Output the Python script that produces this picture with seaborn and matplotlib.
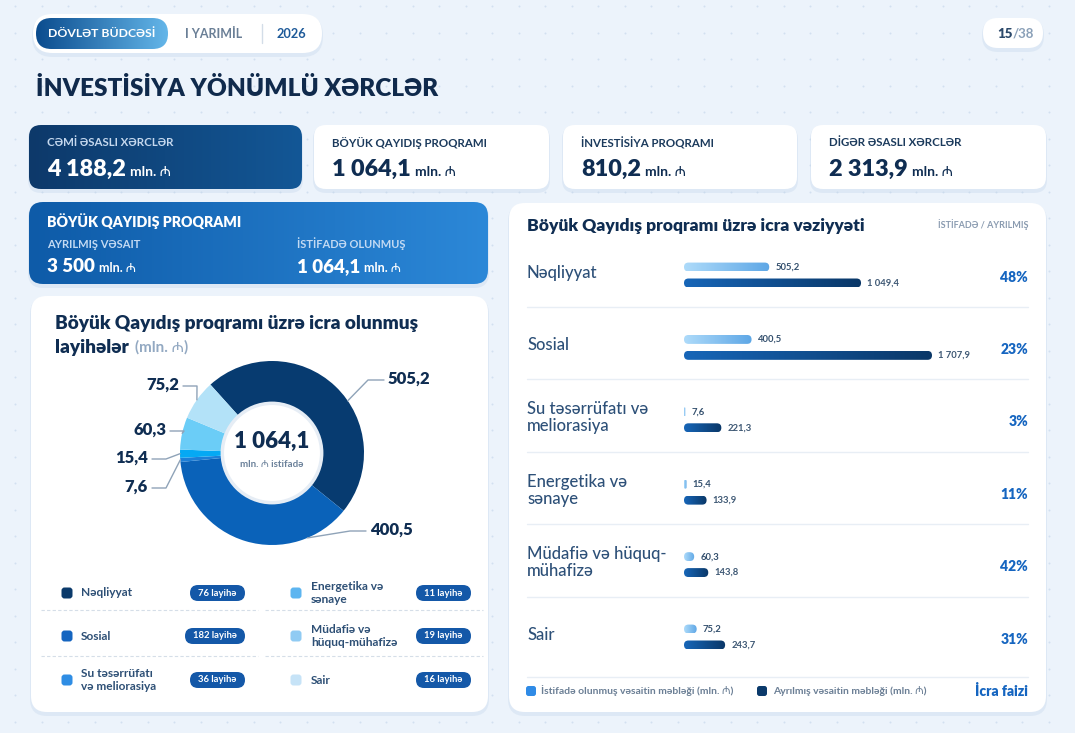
import matplotlib
matplotlib.use('Agg')
import matplotlib.pyplot as plt
from matplotlib.patches import FancyBboxPatch, Circle
from matplotlib.colors import LinearSegmentedColormap
import numpy as np
import pandas as pd
import seaborn as sns

W, H = 1075, 733

# chart data
kpi_labels = ['CƏMİ ƏSASLI XƏRCLƏR', 'BÖYÜK QAYIDIŞ PROQRAMI', 'İNVESTİSİYA PROQRAMI', 'DİGƏR ƏSASLI XƏRCLƏR']
kpi_values = ['4 188,2', '1 064,1', '810,2', '2 313,9']
program_allocated = '3 500'
program_used = '1 064,1'

categories = ['Nəqliyyat', 'Sosial', 'Su təsərrüfatı və meliorasiya', 'Energetika və sənaye',
              'Müdafiə və hüquq-mühafizə', 'Sair']
row_labels = ['Nəqliyyat', 'Sosial', 'Su təsərrüfatı və\nmeliorasiya', 'Energetika və\nsənaye',
              'Müdafiə və hüquq-\nmühafizə', 'Sair']
legend_labels = ['Nəqliyyat', 'Sosial', 'Su təsərrüfatı\nvə meliorasiya', 'Energetika və\nsənaye',
                 'Müdafiə və\nhüquq-mühafizə', 'Sair']
used = [505.2, 400.5, 7.6, 15.4, 60.3, 75.2]
allocated = [1049.4, 1707.9, 221.3, 133.9, 143.8, 243.7]
exec_pct = [48, 23, 3, 11, 42, 31]
project_counts = [76, 182, 36, 11, 19, 16]

# colours
BG = '#ECF3FB'
NAVY = '#0F2D52'
donut_colors = ['#073B70', '#0A62B9', '#1C7FD8', '#05A9F4', '#6BCDF7', '#B3E2F8']
marker_colors = ['#0B3A6B', '#1565C0', '#2F8DE4', '#5DB5F0', '#90CBF3', '#C6E3F7']

sns.set_theme(style='white')
plt.rcParams['font.family'] = ['Lato', 'Noto Sans', 'Inter', 'Roboto', 'Open Sans', 'DejaVu Sans']


def fmt(v):
    return f'{v:,.1f}'.replace(',', ' ').replace('.', ',')


def px_rect(x0, y0, x1, y1):
    return [x0 / W, 1 - y1 / H, (x1 - x0) / W, (y1 - y0) / H]


fig = plt.figure(figsize=(W / 100, H / 100), dpi=100)
fig.patch.set_facecolor(BG)
cv = fig.add_axes([0, 0, 1, 1])
cv.set_xlim(0, W)
cv.set_ylim(H, 0)
cv.set_autoscale_on(False)
cv.axis('off')
renderer = fig.canvas.get_renderer()


def rbox(x0, y0, x1, y1, r, fc, z=1, ax=None, **kw):
    ax = ax or cv
    p = FancyBboxPatch((x0, y0), x1 - x0, y1 - y0, boxstyle=f'round,pad=0,rounding_size={r}',
                       fc=fc, ec='none', lw=0, zorder=z, **kw)
    ax.add_patch(p)
    return p


def grad_box(x0, y0, x1, y1, r, c0, c1, z=2):
    p = rbox(x0, y0, x1, y1, r, 'none', z=z)
    cmap = LinearSegmentedColormap.from_list('g', [c0, c1])
    im = cv.imshow(np.linspace(0, 1, 256)[None, :], extent=[x0, x1, y1, y0], cmap=cmap,
                   aspect='auto', zorder=z, interpolation='bilinear')
    im.set_clip_path(p)


def card(x0, y0, x1, y1, r, fc='white', grad=None):
    rbox(x0 - 1, y0 + 1, x1 + 1, y1 + 4, r + 1, '#C3D5EA', z=1, alpha=0.35)
    if grad:
        grad_box(x0, y0, x1, y1, r, grad[0], grad[1])
    else:
        rbox(x0, y0, x1, y1, r, fc, z=2)


def txt(x, y, s, size, color, weight='normal', ha='left', va='center', z=5, **kw):
    return cv.text(x, y, s, fontsize=size, color=color, fontweight=weight, ha=ha, va=va, zorder=z, **kw)


def value_unit(x, y, value, vsize, usize, color):
    t = txt(x, y, value, vsize, color, 'heavy', va='baseline')
    bb = t.get_window_extent(renderer)
    xr = cv.transData.inverted().transform((bb.x1, bb.y0))[0]
    txt(xr + 4, y, 'mln. ₼', usize, color, 'bold', va='baseline')


# dotted background
gx, gy = np.meshgrid(np.arange(15, W, 26.5), np.arange(6, H, 26.5))
cv.scatter(gx.ravel(), gy.ravel(), s=2.0, c='#D2E0F0', lw=0, zorder=0)

# header
card(33, 14, 322, 53, 19.5)
grad_box(36, 18, 168, 49, 15.5, '#0B4C8E', '#64B6E9', z=3)
txt(102, 33.5, 'DÖVLƏT BÜDCƏSİ', 8.8, 'white', 'bold', ha='center', z=6)
txt(185, 33.5, 'I YARIMİL', 9, '#6A7F96', 'bold')
cv.plot([262, 262], [24, 43], color='#D3DDE8', lw=1, zorder=4)
txt(277, 33.5, '2026', 9.2, '#1E5A99', 'bold')
card(983, 18, 1043, 48, 15)
txt(1013, 33.5, '15', 9.5, '#2C4A6B', 'heavy', ha='right')
txt(1013, 33.5, '/38', 9.5, '#8AA0B8', 'bold', ha='left')
txt(36, 89, 'İNVESTİSİYA YÖNÜMLÜ XƏRCLƏR', 17.6, '#102A4C', 'heavy')

# KPI cards
kpi_boxes = [(29, 302), (314, 549), (563, 797), (811, 1046)]
for i, (x0, x1) in enumerate(kpi_boxes):
    dark = i == 0
    card(x0, 125, x1, 189, 12, grad=('#0D396A', '#135796') if dark else None)
    txt(x0 + 18, 143, kpi_labels[i], 8.3, '#C5D8EE' if dark else '#1B3A5C', 'bold')
    value_unit(x0 + 18, 176, kpi_values[i], 16.8, 10, 'white' if dark else NAVY)

# program card
card(29, 202, 488, 284, 14, grad=('#0E5BA8', '#2C88D8'))
txt(47, 221, 'BÖYÜK QAYIDIŞ PROQRAMI', 10.2, 'white', 'heavy')
txt(47, 244, 'AYRILMIŞ VƏSAIT', 8, '#C3DAF3', 'bold')
value_unit(47, 272, program_allocated, 13.5, 9, 'white')
txt(297, 244, 'İSTİFADƏ OLUNMUŞ', 8, '#C3DAF3', 'bold')
value_unit(297, 272, program_used, 13.5, 9, 'white')

# left card: donut
card(31, 296, 488, 712, 16)
txt(55, 323, 'Böyük Qayıdış proqramı üzrə icra olunmuş', 13.7, NAVY, 'heavy')
tl = txt(55, 347, 'layihələr', 13.7, NAVY, 'heavy')
bb = tl.get_window_extent(renderer)
xr = cv.transData.inverted().transform((bb.x1, bb.y0))[0]
txt(xr + 6, 347, '(mln. ₼)', 11, '#93A9C2', 'bold')

CX, CY, R, HALF = 272, 453, 92, 170
axd = fig.add_axes(px_rect(CX - HALF, CY - HALF, CX + HALF, CY + HALF))
wedges, _ = axd.pie(used, colors=donut_colors, startangle=132, counterclock=False, radius=1,
                    wedgeprops=dict(width=0.46, edgecolor='none'))
axd.set_xlim(-HALF / R, HALF / R)
axd.set_ylim(-HALF / R, HALF / R)
axd.set_aspect('equal')
axd.axis('off')
axd.add_patch(Circle((0, 0), 0.54, fc='white', ec='#E6EDF5', lw=2.5, zorder=3))
axd.text(0, 0.13, program_used, fontsize=16, fontweight='heavy', color=NAVY, ha='center', va='center', zorder=4)
axd.text(0, -0.12, 'mln. ₼ istifadə', fontsize=7, fontweight='bold', color='#6B819A', ha='center', va='center', zorder=4)


def d(xp, yp):
    return (xp - CX) / R, (CY - yp) / R


label_pos = [(388, 379), (370, 530), (148, 487), (148, 458), (166, 430), (179, 385)]
label_ha = ['left', 'left', 'right', 'right', 'right', 'right']
anchor_t = [0.57, 0.21, 0.5, 0.5, 0.5, 0.5]
for w, v, (lx, ly), ha, t in zip(wedges, used, label_pos, label_ha, anchor_t):
    # counterclock=False: wedge runs from theta2 down to theta1
    ang = np.deg2rad(w.theta2 - (w.theta2 - w.theta1) * t)
    a = (np.cos(ang), np.sin(ang))
    if ha == 'left':
        end = d(lx - 4, ly + 1)
        elbow = d(lx - 20, ly + 1)
    else:
        end = d(lx + 4, ly + 1)
        elbow = d(lx + 18, ly + 1)
    axd.plot([a[0], elbow[0], end[0]], [a[1], elbow[1], end[1]], color='#8FA3B8', lw=1, zorder=2,
             clip_on=False)
    axd.text(*d(lx, ly), fmt(v), fontsize=12, fontweight='heavy', color=NAVY, ha=ha, va='center')

# left legend
rows_y = [593, 636, 680]
cols = [(67, 81, 245), (296, 311, 471)]
for i, (lab, cnt) in enumerate(zip(legend_labels, project_counts)):
    mx, tx, pr = cols[i // 3]
    y = rows_y[i % 3]
    rbox(mx - 5.5, y - 5.5, mx + 5.5, y + 5.5, 3, marker_colors[i], z=3)
    txt(tx, y, lab, 8.6, '#2D4F75', 'bold', linespacing=1.2)
    s = f'{cnt} layihə'
    pw = 5 * len(s) + 10
    rbox(pr - pw, y - 8, pr, y + 8, 8, '#1458A8', z=3)
    txt(pr - pw / 2, y, s, 6.8, 'white', 'bold', ha='center')
for y in [610, 656]:
    for x0, x1 in [(41, 258), (265, 483)]:
        cv.plot([x0, x1], [y, y], color='#D5DEE8', lw=0.8, ls=(0, (3, 2)), zorder=4)

# right card: bars
card(509, 203, 1046, 712, 16)
txt(527, 226, 'Böyük Qayıdış proqramı üzrə icra vəziyyəti', 12.6, NAVY, 'heavy')
txt(1028, 225, 'İSTİFADƏ / AYRILMIŞ', 6.5, '#8A9BB0', 'bold', ha='right')

BX0, BW, BTOP, ROW = 684, 248, 238.8, 72.4
XMAX = 1470
axb = fig.add_axes(px_rect(BX0, BTOP, BX0 + BW, BTOP + 6 * ROW))
axb.patch.set_alpha(0)
df = pd.DataFrame({
    'Kateqoriya': categories * 2,
    'Növ': ['İstifadə'] * 6 + ['Ayrılmış'] * 6,
    'Məbləğ': used + allocated,
})
sns.barplot(data=df, y='Kateqoriya', x='Məbləğ', hue='Növ', order=categories,
            hue_order=['İstifadə', 'Ayrılmış'], palette=['#8CC4F0', '#10508F'],
            orient='h', width=0.44, gap=0.44, errorbar=None, saturation=1,
            legend=False, ax=axb)
axb.set_xlim(0, XMAX)
axb.set_ylim(5.5, -0.5)
axb.axis('off')

sx = BW / XMAX
sy = ROW
used_cmap = LinearSegmentedColormap.from_list('u', ['#AEDBFA', '#5EA7E6'])
alloc_cmap = LinearSegmentedColormap.from_list('a', ['#1766B8', '#0A3767'])
for p in list(axb.patches):
    x0, y0, w, h = p.get_x(), p.get_y(), p.get_width(), p.get_height()
    p.set_visible(False)
    yc = y0 + h / 2
    is_used = yc < round(yc)
    wv = min(w, XMAX - x0)
    r_px = min(4.5, wv * sx / 2, h * sy / 2)
    fb = FancyBboxPatch((x0, y0), wv, h, boxstyle=f'round,pad=0,rounding_size={r_px / sx}',
                        mutation_aspect=sx / sy, fc='none', ec='none', lw=0)
    axb.add_patch(fb)
    im = axb.imshow(np.linspace(0, 1, 256)[None, :], extent=[x0, x0 + wv, y0 + h, y0],
                    cmap=used_cmap if is_used else alloc_cmap, aspect='auto', interpolation='bilinear')
    im.set_clip_path(fb)
    axb.text(x0 + wv + 6 / sx, yc, fmt(w), fontsize=6.8, fontweight='bold',
             color='#34506E' if is_used else '#3E5874', ha='left', va='center', clip_on=False)
axb.set_xlim(0, XMAX)
axb.set_ylim(5.5, -0.5)

inv = cv.transData.inverted()
for i, lab in enumerate(row_labels):
    yc = inv.transform(axb.transData.transform((0, i)))[1]
    txt(527, yc - 2, lab, 12, '#2D5078', 'medium', linespacing=1.05)
    txt(1028, yc + 2, f'{exec_pct[i]}%', 10, '#1565C0', 'heavy', ha='right')
    if i < 5:
        cv.plot([527, 1028], [yc + 32, yc + 32], color='#E8EEF5', lw=1, zorder=4)
cv.plot([527, 1028], [677, 677], color='#E8EEF5', lw=1, zorder=4)

# bar legend
rbox(526, 686, 536, 696, 2.5, '#2F8BE6', z=4)
txt(541, 691, 'İstifadə olunmuş vəsaitin məbləği (mln. ₼)', 7.5, '#6B7F95', 'bold')
rbox(757, 686, 767, 696, 2.5, '#0B3A6B', z=4)
txt(773, 691, 'Ayrılmış vəsaitin məbləği (mln. ₼)', 7.5, '#6B7F95', 'bold')
txt(1028, 691, 'İcra faizi', 10, '#1565C0', 'heavy', ha='right')

cv.set_xlim(0, W)
cv.set_ylim(H, 0)
fig.savefig('out.png', dpi=100, facecolor=BG)
